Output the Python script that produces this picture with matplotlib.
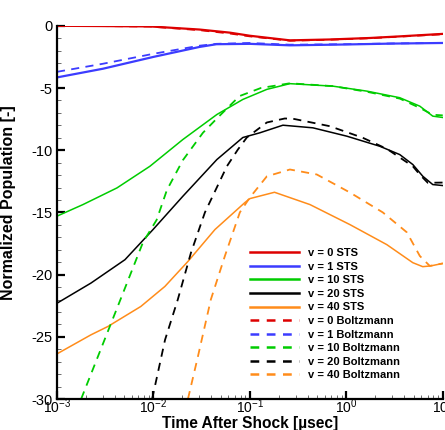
import numpy as np
import matplotlib
matplotlib.use("Agg")
import matplotlib.pyplot as plt
from matplotlib.ticker import LogLocator, MultipleLocator, NullFormatter

plt.rcParams['font.family'] = 'Liberation Sans'
plt.rcParams['mathtext.fontset'] = 'custom'
plt.rcParams['mathtext.rm'] = 'Liberation Sans'
plt.rcParams['mathtext.it'] = 'Liberation Sans:italic'
plt.rcParams['mathtext.bf'] = 'Liberation Sans:bold'
plt.rcParams['axes.unicode_minus'] = False

# STS curves (time in microseconds, normalized population)
t_v0 = [0.001, 0.0028, 0.0092, 0.03, 0.062, 0.1, 0.26, 0.675, 1.75, 3.58, 10]
sts_v0 = [0.0, -0.02, -0.05, -0.3, -0.55, -0.8, -1.17, -1.1, -0.98, -0.85, -0.65]
bz_v0 = [0.0, -0.02, -0.06, -0.35, -0.62, -0.85, -1.2, -1.12, -1.0, -0.87, -0.68]

t_v1 = [0.001, 0.003, 0.01, 0.03, 0.045, 0.1, 0.26, 1.0, 3.0, 10]
sts_v1 = [-4.15, -3.45, -2.5, -1.7, -1.48, -1.45, -1.57, -1.5, -1.43, -1.38]
bz_v1 = [-3.7, -3.05, -2.25, -1.6, -1.45, -1.38, -1.52, -1.48, -1.42, -1.38]

t_v10 = [0.001, 0.00186, 0.00419, 0.0092, 0.0202, 0.0455, 0.0845, 0.15, 0.26,
         0.724, 1.63, 3.58, 5.78, 7.87, 10]
sts_v10 = [-15.3, -14.37, -13.03, -11.29, -9.14, -7.13, -5.92, -5.11, -4.65,
           -4.85, -5.25, -5.78, -6.46, -7.26, -7.37]
t_bz10 = [0.00178, 0.00483, 0.0078, 0.0108, 0.0138, 0.0202, 0.0326, 0.0455,
          0.078, 0.13, 0.26, 0.724, 1.63, 3.58, 5.78, 7.87, 10]
bz_v10 = [-30.0, -21.5, -17.4, -15.6, -13.2, -10.8, -8.6, -7.45,
          -5.65, -5.0, -4.62, -4.85, -5.3, -5.85, -6.6, -7.15, -7.2]

t_v20 = [0.001, 0.00225, 0.00507, 0.0099, 0.0202, 0.0455, 0.0845, 0.127, 0.22,
         0.45, 1.01, 2.22, 3.58, 4.89, 6.2, 7.87, 10]
sts_v20 = [-22.3, -20.68, -18.8, -16.38, -13.7, -10.75, -8.98, -8.6, -7.99,
           -8.2, -8.87, -9.68, -10.35, -11.15, -12.09, -12.76, -12.84]
t_bz20 = [0.0097, 0.0132, 0.0179, 0.0245, 0.0342, 0.0578, 0.0752, 0.093, 0.15,
          0.23, 0.28, 0.675, 1.48, 2.63, 4.89, 5.78, 7.0, 10]
bz_v20 = [-30.0, -25.24, -22.0, -18.24, -15.0, -11.29, -9.94, -8.98, -7.77,
          -7.45, -7.47, -8.07, -9.0, -9.89, -11.29, -11.96, -12.62, -12.6]

t_v40 = [0.001, 0.00225, 0.00337, 0.0074, 0.01315, 0.0228, 0.0434, 0.0887, 0.1,
         0.18, 0.42, 1.09, 2.63, 4.89, 6.2, 7.5, 10]
sts_v40 = [-26.37, -24.84, -24.17, -22.56, -20.95, -18.94, -16.38, -14.21, -13.89,
           -13.38, -14.37, -15.98, -17.59, -19.04, -19.36, -19.3, -19.1]
t_bz40 = [0.0228, 0.0289, 0.0394, 0.0551, 0.0787, 0.1, 0.15, 0.26, 0.494, 1.09,
          2.39, 4.24, 5.78, 7.33, 10]
bz_v40 = [-30.0, -26.6, -22.0, -18.5, -15.0, -13.8, -12.1, -11.55, -11.95, -13.4,
          -15.0, -16.6, -18.5, -19.3, -19.1]

red = '#dd0000'
blue = '#3c3cff'
green = '#00cc00'
black = '#000000'
orange = '#ff8c1a'

fig = plt.figure(figsize=(4.45, 4.30), dpi=100)
ax = fig.add_axes([0.128, 0.072, 0.867, 0.868])

solid = [(t_v0, sts_v0, red, 1.6, 'v = 0 STS'),
         (t_v1, sts_v1, blue, 1.6, 'v = 1 STS'),
         (t_v10, sts_v10, green, 1.1, 'v = 10 STS'),
         (t_v20, sts_v20, black, 1.1, 'v = 20 STS'),
         (t_v40, sts_v40, orange, 1.1, 'v = 40 STS')]
dashed = [(t_v0, bz_v0, red, 'v = 0 Boltzmann'),
          (t_v1, bz_v1, blue, 'v = 1 Boltzmann'),
          (t_bz10, bz_v10, green, 'v = 10 Boltzmann'),
          (t_bz20, bz_v20, black, 'v = 20 Boltzmann'),
          (t_bz40, bz_v40, orange, 'v = 40 Boltzmann')]

handles = []
for t, y, c, lw, lab in solid:
    ax.plot(t, y, color=c, lw=lw)
    h, = plt.plot([], [], color=c, lw=1.8, label=lab)
    handles.append(h)
for t, y, c, lab in dashed:
    ax.plot(t, y, color=c, lw=1.3, dashes=(4.5, 3.5))
    h, = plt.plot([], [], color=c, lw=1.8, dashes=(3.5, 3), label=lab)
    handles.append(h)

ax.set_xscale('log')
ax.set_xlim(1e-3, 1e1)
ax.set_ylim(-30, 0)
ax.yaxis.set_major_locator(MultipleLocator(5))
ax.yaxis.set_minor_locator(MultipleLocator(1))
ax.xaxis.set_major_locator(LogLocator(base=10, numticks=10))
ax.xaxis.set_minor_locator(LogLocator(base=10, subs=np.arange(2, 10), numticks=20))
ax.xaxis.set_minor_formatter(NullFormatter())

for side in ['top', 'right']:
    ax.spines[side].set_visible(False)
for side in ['left', 'bottom']:
    ax.spines[side].set_linewidth(1.6)

ax.tick_params(which='major', direction='in', length=6, width=1.6, labelsize=10.5, pad=3)
ax.tick_params(which='minor', direction='in', length=3, width=0.6, color='#555555')
ax.tick_params(axis='x', which='major', pad=-1, labelsize=10)

ax.set_xlabel('Time After Shock [\u00b5sec]', fontsize=11.2, fontweight='bold', labelpad=-0.5)
ax.set_ylabel('Normalized Population [-]', fontsize=11.5, fontweight='bold')
ax.yaxis.set_label_coords(-0.105, 0.525)

leg = ax.legend(handles=handles, loc='upper left', bbox_to_anchor=(0.49, 0.416),
                frameon=False, fontsize=8, handlelength=4.4, handletextpad=0.8,
                labelspacing=0.32, borderaxespad=0)
for txt in leg.get_texts():
    txt.set_fontweight('bold')

fig.savefig('out.png', dpi=100)
